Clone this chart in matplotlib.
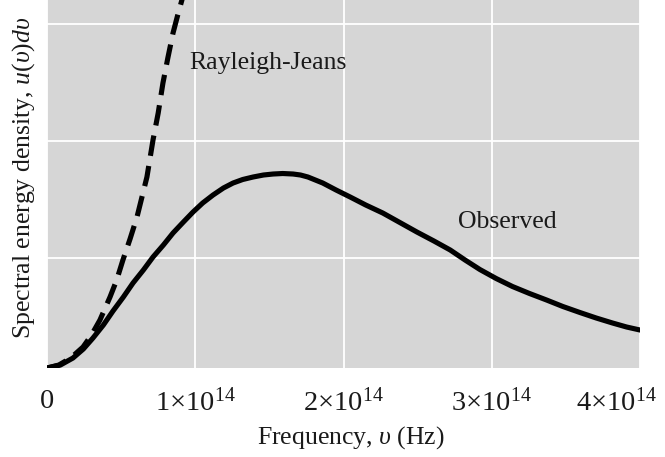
import matplotlib
matplotlib.use("Agg")
import matplotlib.pyplot as plt

plt.rcParams['font.family'] = ['Liberation Serif', 'DejaVu Serif']
plt.rcParams['mathtext.fontset'] = 'custom'
plt.rcParams['mathtext.rm'] = 'Liberation Serif'
plt.rcParams['mathtext.it'] = 'Liberation Serif:italic'

# frequency in units of 1e14 Hz, energy density in arbitrary units
obs_freq = [0, 0.09, 0.175, 0.245, 0.31, 0.38, 0.445, 0.515, 0.58, 0.65, 0.715, 0.785,
            0.85, 0.92, 0.985, 1.05, 1.12, 1.19, 1.255, 1.32, 1.39, 1.46, 1.525, 1.59,
            1.66, 1.71, 1.76, 1.81, 1.86, 1.95, 2.045, 2.15, 2.265, 2.38, 2.495, 2.61,
            2.72, 2.82, 2.92, 3.03, 3.14, 3.255, 3.37, 3.48, 3.595, 3.705, 3.815, 3.91, 4.0]
obs_u = [0, 3, 10, 19, 30, 43, 57, 71, 85, 98, 111, 123,
         135, 146, 156, 165, 173, 180, 185, 188.5, 191, 193, 194, 194.5,
         194, 193, 191, 188, 185, 178, 171, 163, 155, 145.5, 136, 127,
         118, 108, 98.5, 89.5, 81.5, 74.5, 68, 61.5, 55.5, 50, 45, 41, 38]

rj_freq = [0, 0.08, 0.16, 0.243, 0.3, 0.357, 0.425, 0.47, 0.512, 0.56, 0.607, 0.674,
           0.715, 0.75, 0.782, 0.815, 0.85, 0.88, 0.91, 0.97]
rj_u = [0, 3, 10, 21, 33, 48, 71, 88, 108, 129, 151, 191,
        228, 255, 285, 310, 335, 352, 368, 410]

xtick_vals = [0, 1, 2, 3, 4]
xtick_labels = ['0', r'$1{\times}10^{14}$', r'$2{\times}10^{14}$',
                r'$3{\times}10^{14}$', r'$4{\times}10^{14}$']
ygrid_vals = [110, 227, 344]

fig = plt.figure(figsize=(6.65, 4.57), dpi=100)
ax = fig.add_axes([0.0707, 0.1947, 0.8917, 0.8053])
ax.set_facecolor('#d6d6d6')

ax.plot(obs_freq, obs_u, color='black', lw=3.7, solid_capstyle='round',
        solid_joinstyle='round', zorder=3)
ax.plot(rj_freq, rj_u, color='black', lw=3.7, dashes=(4, 2), zorder=3)

ax.set_xlim(0, 4)
ax.set_ylim(0, 368)
ax.set_xticks(xtick_vals)
ax.set_xticklabels([])
ax.set_yticks(ygrid_vals)
ax.set_yticklabels([])
ax.tick_params(length=0)
ax.grid(True, color='white', lw=1.3)
ax.set_axisbelow(True)
for s in ax.spines.values():
    s.set_visible(False)

# tick labels (the last one sits a bit inside the right edge, as in the original)
trans = ax.get_xaxis_transform()
for xv, lab in zip(xtick_vals, xtick_labels):
    xpos = xv if xv < 4 else 3.84
    ax.text(xpos, -0.092, lab, transform=trans, ha='center', va='center',
            fontsize=20.5, color='#1a1a1a')

ax.text(2.05, -0.19, r'Frequency, $υ$ (Hz)', transform=trans, ha='center',
        va='center', fontsize=18.5, color='#1a1a1a')
ax.set_ylabel(r'Spectral energy density, $u(υ)dυ$', fontsize=18.5, color='#1a1a1a')
ax.yaxis.set_label_coords(-0.017, 0.516)

ax.text(0.96, 305, 'Rayleigh-Jeans', fontsize=18.5, va='center', ha='left', color='#1a1a1a')
ax.text(2.77, 146, 'Observed', fontsize=18.5, va='center', ha='left', color='#1a1a1a')

fig.savefig('out.png', dpi=100, facecolor='white')
